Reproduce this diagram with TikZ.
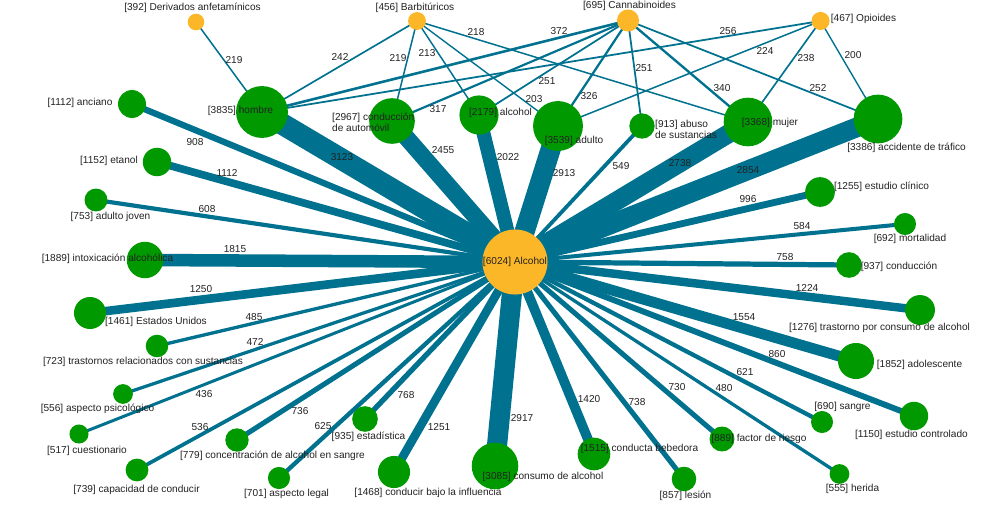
\documentclass[tikz,border=0pt]{standalone}
\usepackage{fontspec}
\setmainfont{Liberation Sans}
\usetikzlibrary{backgrounds}

\definecolor{linkblue}{RGB}{0,114,143}
\definecolor{termgreen}{RGB}{0,153,0}
\definecolor{drugorange}{RGB}{252,183,41}
\definecolor{labelgray}{RGB}{34,34,34}

\tikzset{
  term/.style={circle, fill=termgreen, inner sep=0pt, minimum size={0.838*sqrt(#1)}},
  drug/.style={circle, fill=drugorange, inner sep=0pt, minimum size={0.838*sqrt(#1)}},
  link/.style={draw=linkblue, line width={#1/145}},
  lbl/.style={text=labelgray, inner sep=0pt, font=\fontsize{10.1}{11}\selectfont},
}

\begin{document}
\begin{tikzpicture}[x=1pt,y=-1pt]
      \useasboundingbox (0,0) rectangle (1005,508);

      \node[drug=6024, lbl] (alc) at (515,262) {[6024] Alcohol};

      \foreach \nm/\cnt/\x/\y/\tx/\ty/\lab in {der/392/196/22/192.5/7.5/Derivados anfetamínicos,
          bar/456/417/21/415/7.5/Barbitúricos, can/695/628/20.5/629.5/6/Cannabinoides,
          opi/467/820.5/21/863.5/19/Opioides}
      {
        \node[drug=\cnt] (\nm) at (\x,\y) {};
        \node[lbl] (t-\nm) at (\tx,\ty) {[\cnt] \lab};
      }

      \foreach \nm/\cnt/\x/\y/\tx/\ty/\lab in {hombre/3835/262/112/240.5/111/hombre,
          anciano/1112/132/104/80/103/anciano, etanol/1152/157/162/109/161/etanol,
          ajoven/753/96/200/110.5/217/adulto joven, intox/1889/145/260/107.5/259/intoxicación alcohólica,
          eeuu/1461/90/313/156/322/Estados Unidos, trsust/723/157/346/143/362/trastornos relacionados con sustancias,
          psico/556/123/394/97.5/409/aspecto psicológico, cuest/517/79/434/87/451/cuestionario,
          capac/739/137/470/136.5/490/capacidad de conducir, concen/779/237/440/272.5/456/concentración de alcohol en sangre,
          legal/701/279/478/286.5/494/aspecto legal, estad/935/365/419/368.5/437/estadística,
          cbajo/1468/394/472/428/493/conducir bajo la influencia, consumo/3085/495/466/543/477/consumo de alcohol,
          conducta/1515/594/454/639.5/449/conducta bebedora, lesion/857/684/479/685.5/496/lesión,
          factor/889/722/439/759/439/factor de riesgo, herida/555/839.5/474/852.5/489/herida,
          sangre/690/822/422/842.5/407/sangre, econtr/1150/914/416/911.5/435/estudio controlado,
          adoles/1852/856/361/919.5/365/adolescente, trcons/1276/920/310/879.5/328/trastorno por consumo de alcohol,
          conduc/937/849/265/899/267/conducción, mortal/692/905/224/910/239/mortalidad,
          eclin/1255/820/192/881.5/187/estudio clínico, accid/3386/878/119/906.5/148/accidente de tráfico,
          mujer/3368/748/122/770/123/mujer, adulto/3539/558/126/574/141/adulto,
          alcgr/2179/479/115/500.5/113/alcohol}
      {
        \node[term=\cnt] (\nm) at (\x,\y) {};
        \node[lbl] (t-\nm) at (\tx,\ty) {[\cnt] \lab};
      }

      \node[term=2967] (cauto) at (392,121) {};
      \node[lbl, anchor=west, align=left] (t-cauto) at (332,122.5) {[2967] conducción\\de automóvil};
      \node[term=913] (abuso) at (642,126) {};
      \node[lbl, anchor=west, align=left] (t-abuso) at (655,129.5) {[913] abuso\\de sustancias};

      \begin{pgfonlayer}{background}
        \fill[white] (0,0) rectangle (1005,508);
        \foreach \nm/\w in {hombre/3123, anciano/908, etanol/1112, ajoven/608, intox/1815, eeuu/1250,
            trsust/485, psico/472, cuest/436, capac/536, concen/736, legal/625, estad/768, cbajo/1251,
            consumo/2917, conducta/1420, lesion/738, factor/730, herida/480, sangre/621, econtr/860,
            adoles/1554, trcons/1224, conduc/758, mortal/584, eclin/996, accid/2854, mujer/2738,
            abuso/549, adulto/2913, alcgr/2022, cauto/2455}
          \draw[link=\w] (alc.center) -- (\nm.center);
        \foreach \a/\b/\w in {der/hombre/219, bar/hombre/242, bar/cauto/219, bar/alcgr/213, bar/adulto/203,
            bar/mujer/218, can/hombre/372, can/cauto/317, can/alcgr/251, can/adulto/326, can/abuso/251,
            can/mujer/340, can/accid/252, opi/hombre/256, opi/adulto/224, opi/mujer/238, opi/accid/200}
          \draw[link=\w] (\a.center) -- (\b.center);
      \end{pgfonlayer}

      \foreach \nm/\w/\lx/\ly in {hombre/3123/342/157, anciano/908/195/142, etanol/1112/227/173,
          ajoven/608/207/209, intox/1815/235/249, eeuu/1250/201/289, trsust/485/254/317, psico/472/255/342,
          cuest/436/204/394, capac/536/200/427, concen/736/300/411, legal/625/323/426, estad/768/406/395,
          cbajo/1251/439/427, consumo/2917/522/418, conducta/1420/589/399, lesion/738/637/402,
          factor/730/677/387, herida/480/724/388, sangre/621/745/372, econtr/860/777/354,
          adoles/1554/744/317, trcons/1224/807/288, conduc/758/785/257, mortal/584/802/226,
          eclin/996/748/199, accid/2854/748/170, mujer/2738/680/163, abuso/549/621/166,
          adulto/2913/564/173, alcgr/2022/508/157, cauto/2455/443/150}
        \node[lbl] (w-\nm) at (\lx,\ly) {\w};

      \foreach \a/\b/\w/\lx/\ly in {der/hombre/219/234/60, bar/hombre/242/340/57, bar/cauto/219/398/58,
          bar/alcgr/213/427/53, bar/adulto/203/534/99, bar/mujer/218/476/32, can/hombre/372/559/31,
          can/cauto/317/438/109, can/alcgr/251/547/81, can/adulto/326/589/96, can/abuso/251/644/68,
          can/mujer/340/722/88, can/accid/252/818/88, opi/hombre/256/728/31, opi/adulto/224/765/51,
          opi/mujer/238/806/58, opi/accid/200/853/55}
        \node[lbl] (w-\a-\b) at (\lx,\ly) {\w};

\end{tikzpicture}
\end{document}
